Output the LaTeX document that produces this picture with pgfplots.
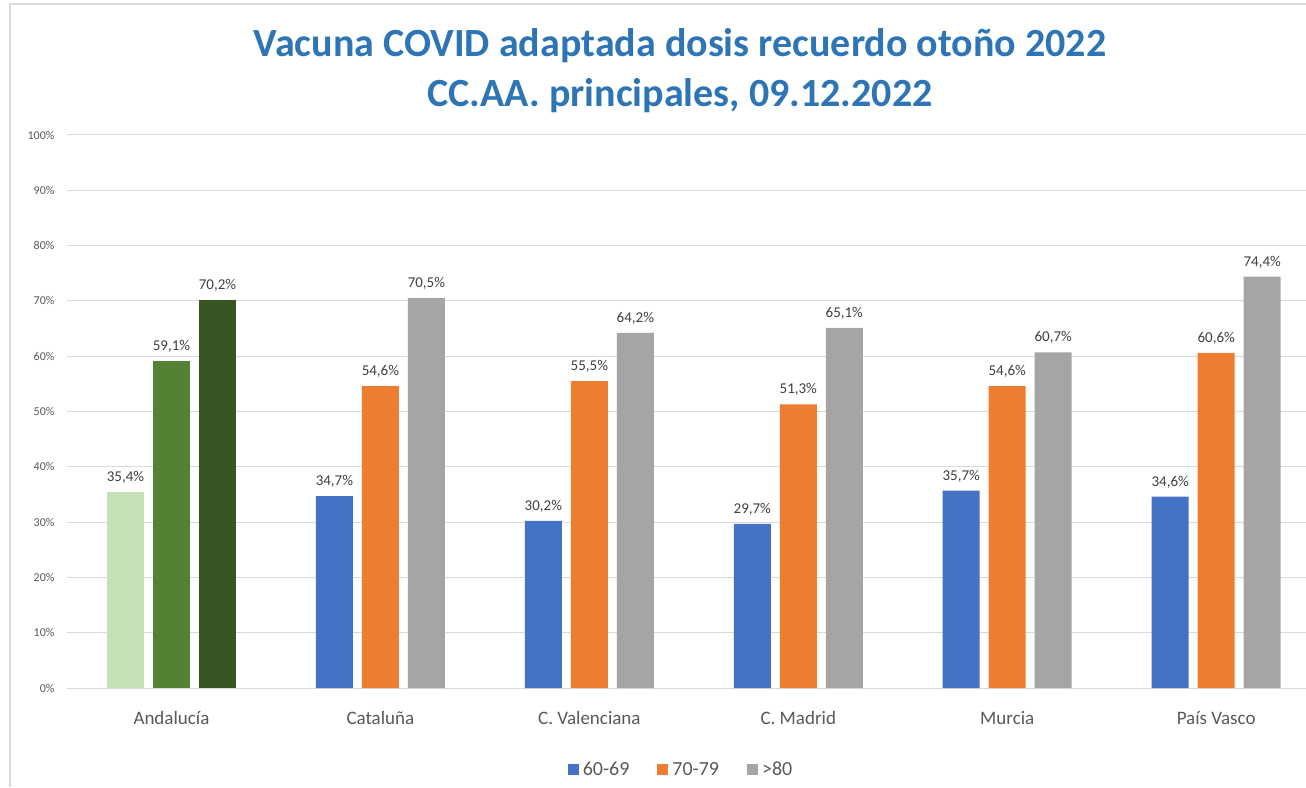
\documentclass[border=0pt]{standalone}
\usepackage{pgfplots}
\pgfplotsset{compat=1.18}
\usepackage{fontspec}
\setmainfont{Carlito}
\definecolor{cblue}{HTML}{4472C4}
\definecolor{corange}{HTML}{ED7D31}
\definecolor{cgray}{HTML}{A5A5A5}
\definecolor{glight}{HTML}{C5E0B4}
\definecolor{gmid}{HTML}{548235}
\definecolor{gdark}{HTML}{375623}
\definecolor{titleblue}{HTML}{2E75B6}
\definecolor{gridc}{HTML}{D9D9D9}
\definecolor{txt}{HTML}{595959}
\definecolor{lbl}{HTML}{404040}
\begin{document}
\begin{tikzpicture}[x=1pt,y=1pt]
\clip (0,0) rectangle (1306,787);
\fill[white] (0,0) rectangle (1306,787);
\draw[gridc, line width=1.2pt] (10,0) -- (10,783) -- (1306,783);
\node[font=\fontsize{40}{46}\selectfont\bfseries, text=titleblue] at (680,741) {Vacuna COVID adaptada dosis recuerdo otoño 2022};
\node[font=\fontsize{40}{46}\selectfont\bfseries, text=titleblue] at (680,691) {CC.AA. principales, 09.12.2022};
\begin{axis}[
  at={(67pt,99pt)}, anchor=south west,
  scale only axis, width=1239pt, height=553pt,
  xmin=-0.5, xmax=5.43, ymin=0, ymax=100,
  axis line style={draw=none},
  ytick={0,10,...,100},
  yticklabels={0\%,10\%,20\%,30\%,40\%,50\%,60\%,70\%,80\%,90\%,100\%},
  yticklabel style={font=\fontsize{12}{13}\selectfont, text=txt, xshift=-9pt},
  ymajorgrids, grid style={gridc, line width=1pt},
  major tick length=0pt,
  xtick={0,1,2,3,4,5},
  xticklabels={Andalucía,Cataluña,C. Valenciana,C. Madrid,Murcia,País Vasco},
  xticklabel style={font=\fontsize{19}{22}\selectfont, text=txt, yshift=-20pt},
  ybar, bar width=37pt,
  nodes near coords={\pgfmathprintnumber[assume math mode=true,fixed,fixed zerofill,precision=1,use comma]{\pgfplotspointmeta}\%},
  every node near coord/.append style={font=\fontsize{15}{17}\selectfont, text=lbl, yshift=5pt},
  clip=false,
  legend columns=3,
  legend style={at={(0.4956,-0.148)}, anchor=center, draw=none, fill=none,
    font=\fontsize{20}{23}\selectfont, text=txt,
    /tikz/every even column/.append style={column sep=26pt}},
  legend image code/.code={\fill[#1,draw=none] (0pt,-5.5pt) rectangle (11pt,5.5pt);},
]
\addplot[fill=cblue, draw=none, bar shift=-46pt] coordinates {(1,34.7) (2,30.2) (3,29.7) (4,35.7) (5,34.6)};
\addlegendentry{\hspace{2pt}60-69}
\addplot[fill=corange, draw=none, bar shift=0pt] coordinates {(1,54.6) (2,55.5) (3,51.3) (4,54.6) (5,60.6)};
\addlegendentry{\hspace{2pt}70-79}
\addplot[fill=cgray, draw=none, bar shift=46pt] coordinates {(1,70.5) (2,64.2) (3,65.1) (4,60.7) (5,74.4)};
\addlegendentry{\hspace{2pt}>80}
\addplot[fill=glight, draw=none, bar shift=-46pt, forget plot] coordinates {(0,35.4)};
\addplot[fill=gmid, draw=none, bar shift=0pt, forget plot] coordinates {(0,59.1)};
\addplot[fill=gdark, draw=none, bar shift=46pt, forget plot] coordinates {(0,70.2)};
\end{axis}
\end{tikzpicture}
\end{document}
